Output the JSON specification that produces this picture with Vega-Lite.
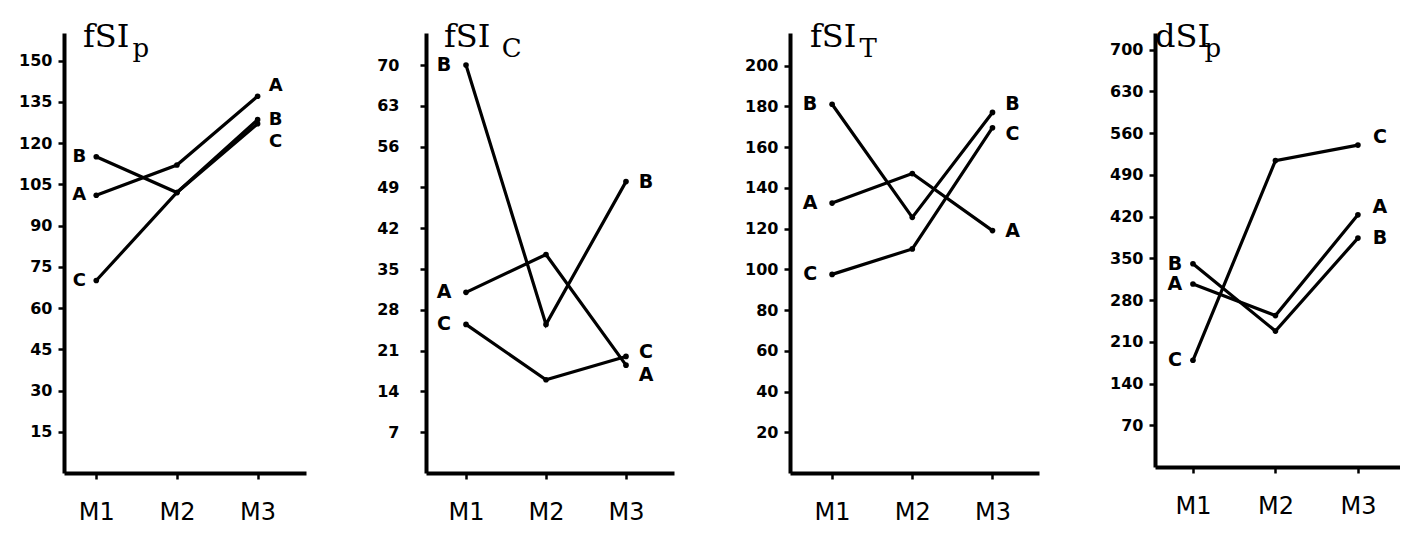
{
  "$schema": "https://vega.github.io/schema/vega-lite/v6.json",
  "background": "white",
  "padding": {"left": 18, "top": 21, "right": 0, "bottom": 0},
  "spacing": 70,
  "config": {
    "view": {"stroke": null},
    "axis": {"domainColor": "black", "domainWidth": 4, "tickColor": "black", "tickWidth": 2.5, "tickSize": 6, "grid": false, "labelColor": "black", "title": null},
    "axisY": {"labelFont": "DejaVu Sans", "labelFontWeight": "bold", "labelFontSize": 16, "labelPadding": 6},
    "axisX": {"labelFont": "DejaVu Sans", "labelFontSize": 24, "labelPadding": 21},
    "title": {"anchor": "start", "frame": "group", "offset": -30, "font": "DejaVu Serif", "fontSize": 32, "fontWeight": "normal", "color": "black", "subtitleFont": "DejaVu Serif", "subtitleFontSize": 26, "subtitleColor": "black", "subtitlePadding": -18}
  },
  "datasets": {
    "si": [
      {"panel": "fSIp", "m": 1, "series": "A", "value": 101},
      {"panel": "fSIp", "m": 2, "series": "A", "value": 112},
      {"panel": "fSIp", "m": 3, "series": "A", "value": 137},
      {"panel": "fSIp", "m": 1, "series": "B", "value": 115},
      {"panel": "fSIp", "m": 2, "series": "B", "value": 102},
      {"panel": "fSIp", "m": 3, "series": "B", "value": 128.5},
      {"panel": "fSIp", "m": 1, "series": "C", "value": 70},
      {"panel": "fSIp", "m": 2, "series": "C", "value": 102},
      {"panel": "fSIp", "m": 3, "series": "C", "value": 127},
      {"panel": "fSIc", "m": 1, "series": "A", "value": 31},
      {"panel": "fSIc", "m": 2, "series": "A", "value": 37.5},
      {"panel": "fSIc", "m": 3, "series": "A", "value": 18.5},
      {"panel": "fSIc", "m": 1, "series": "B", "value": 70},
      {"panel": "fSIc", "m": 2, "series": "B", "value": 25.5},
      {"panel": "fSIc", "m": 3, "series": "B", "value": 50},
      {"panel": "fSIc", "m": 1, "series": "C", "value": 25.5},
      {"panel": "fSIc", "m": 2, "series": "C", "value": 16},
      {"panel": "fSIc", "m": 3, "series": "C", "value": 20},
      {"panel": "fSIt", "m": 1, "series": "A", "value": 132.5},
      {"panel": "fSIt", "m": 2, "series": "A", "value": 147},
      {"panel": "fSIt", "m": 3, "series": "A", "value": 119},
      {"panel": "fSIt", "m": 1, "series": "B", "value": 181},
      {"panel": "fSIt", "m": 2, "series": "B", "value": 125.5},
      {"panel": "fSIt", "m": 3, "series": "B", "value": 177},
      {"panel": "fSIt", "m": 1, "series": "C", "value": 97.5},
      {"panel": "fSIt", "m": 2, "series": "C", "value": 110},
      {"panel": "fSIt", "m": 3, "series": "C", "value": 169.5},
      {"panel": "dSIp", "m": 1, "series": "A", "value": 307},
      {"panel": "dSIp", "m": 2, "series": "A", "value": 254},
      {"panel": "dSIp", "m": 3, "series": "A", "value": 423},
      {"panel": "dSIp", "m": 1, "series": "B", "value": 341},
      {"panel": "dSIp", "m": 2, "series": "B", "value": 228},
      {"panel": "dSIp", "m": 3, "series": "B", "value": 384},
      {"panel": "dSIp", "m": 1, "series": "C", "value": 179},
      {"panel": "dSIp", "m": 2, "series": "C", "value": 514},
      {"panel": "dSIp", "m": 3, "series": "C", "value": 540}
    ]
  },
  "hconcat": [
    {
      "width": 242, "height": 440,
      "data": {"name": "si"},
      "transform": [{"filter": "datum.panel === 'fSIp'"}],
      "title": {"text": "fSI", "subtitle": "\u200b\u00a0\u00a0\u00a0\u00a0\u00a0\u00a0p", "dx": 19},
      "encoding": {
        "x": {"field": "m", "type": "quantitative", "scale": {"domain": [0.6, 3.6], "nice": false}, "axis": {"values": [1, 2, 3], "labelExpr": "'M' + datum.value"}},
        "y": {"field": "value", "type": "quantitative", "scale": {"domain": [0, 160], "nice": false}, "axis": {"values": [15, 30, 45, 60, 75, 90, 105, 120, 135, 150]}}
      },
      "layer": [
        {"mark": {"type": "line", "color": "black", "strokeWidth": 3.2, "point": {"filled": true, "size": 32, "color": "black"}}, "encoding": {"detail": {"field": "series"}}},
        {"transform": [{"filter": "datum.m !== 2"}], "mark": {"type": "text", "font": "DejaVu Sans", "fontWeight": "bold", "fontSize": 18, "color": "black", "dx": {"expr": "datum.m === 1 ? -17 : 18"}, "dy": {"expr": "datum.m === 3 && datum.series === 'A' ? -10 : (datum.m === 3 && datum.series === 'C' ? 18 : 0)"}}, "encoding": {"text": {"field": "series"}}}
      ]
    },
    {
      "width": 248, "height": 440,
      "data": {"name": "si"},
      "transform": [{"filter": "datum.panel === 'fSIc'"}],
      "title": {"text": "fSI", "subtitle": "\u200b\u00a0\u00a0\u00a0\u00a0\u00a0\u00a0\u00a0C", "dx": 18},
      "encoding": {
        "x": {"field": "m", "type": "quantitative", "scale": {"domain": [0.5, 3.6], "nice": false}, "axis": {"values": [1, 2, 3], "labelExpr": "'M' + datum.value"}},
        "y": {"field": "value", "type": "quantitative", "scale": {"domain": [0, 75.5], "nice": false}, "axis": {"values": [7, 14, 21, 28, 35, 42, 49, 56, 63, 70], "labelPadding": 21}}
      },
      "layer": [
        {"mark": {"type": "line", "color": "black", "strokeWidth": 3.2, "point": {"filled": true, "size": 32, "color": "black"}}, "encoding": {"detail": {"field": "series"}}},
        {"transform": [{"filter": "datum.m !== 2"}], "mark": {"type": "text", "font": "DejaVu Sans", "fontWeight": "bold", "fontSize": 19, "color": "black", "dx": {"expr": "datum.m === 1 ? -22 : 20"}, "dy": {"expr": "datum.m === 3 && datum.series === 'A' ? 10 : (datum.m === 3 && datum.series === 'C' ? -4 : 0)"}}, "encoding": {"text": {"field": "series"}}}
      ]
    },
    {
      "width": 249, "height": 440,
      "data": {"name": "si"},
      "transform": [{"filter": "datum.panel === 'fSIt'"}],
      "title": {"text": "fSI", "subtitle": "\u200b\u00a0\u00a0\u00a0\u00a0\u00a0\u00a0T", "dx": 20},
      "encoding": {
        "x": {"field": "m", "type": "quantitative", "scale": {"domain": [0.475, 3.58], "nice": false}, "axis": {"values": [1, 2, 3], "labelExpr": "'M' + datum.value"}},
        "y": {"field": "value", "type": "quantitative", "scale": {"domain": [0, 216], "nice": false}, "axis": {"values": [20, 40, 60, 80, 100, 120, 140, 160, 180, 200]}}
      },
      "layer": [
        {"mark": {"type": "line", "color": "black", "strokeWidth": 3.2, "point": {"filled": true, "size": 32, "color": "black"}}, "encoding": {"detail": {"field": "series"}}},
        {"transform": [{"filter": "datum.m !== 2"}], "mark": {"type": "text", "font": "DejaVu Sans", "fontWeight": "bold", "fontSize": 19, "color": "black", "dx": {"expr": "datum.m === 1 ? -22 : 20"}, "dy": {"expr": "datum.m === 3 && datum.series === 'B' ? -8 : (datum.m === 3 && datum.series === 'C' ? 6 : 0)"}}, "encoding": {"text": {"field": "series"}}}
      ]
    },
    {
      "width": 245, "height": 434,
      "data": {"name": "si"},
      "transform": [{"filter": "datum.panel === 'dSIp'"}],
      "title": {"text": "dSI", "subtitle": "\u200b\u00a0\u00a0\u00a0\u00a0\u00a0\u00a0p", "dx": 0},
      "encoding": {
        "x": {"field": "m", "type": "quantitative", "scale": {"domain": [0.54, 3.51], "nice": false}, "axis": {"values": [1, 2, 3], "labelExpr": "'M' + datum.value"}},
        "y": {"field": "value", "type": "quantitative", "scale": {"domain": [0, 728], "nice": false}, "axis": {"values": [70, 140, 210, 280, 350, 420, 490, 560, 630, 700]}}
      },
      "layer": [
        {"mark": {"type": "line", "color": "black", "strokeWidth": 3.2, "point": {"filled": true, "size": 32, "color": "black"}}, "encoding": {"detail": {"field": "series"}}},
        {"transform": [{"filter": "datum.m !== 2"}], "mark": {"type": "text", "font": "DejaVu Sans", "fontWeight": "bold", "fontSize": 19, "color": "black", "dx": {"expr": "datum.m === 1 ? -18 : 22"}, "dy": {"expr": "datum.m === 3 && datum.series !== 'B' ? -8 : 0"}}, "encoding": {"text": {"field": "series"}}}
      ]
    }
  ]
}
